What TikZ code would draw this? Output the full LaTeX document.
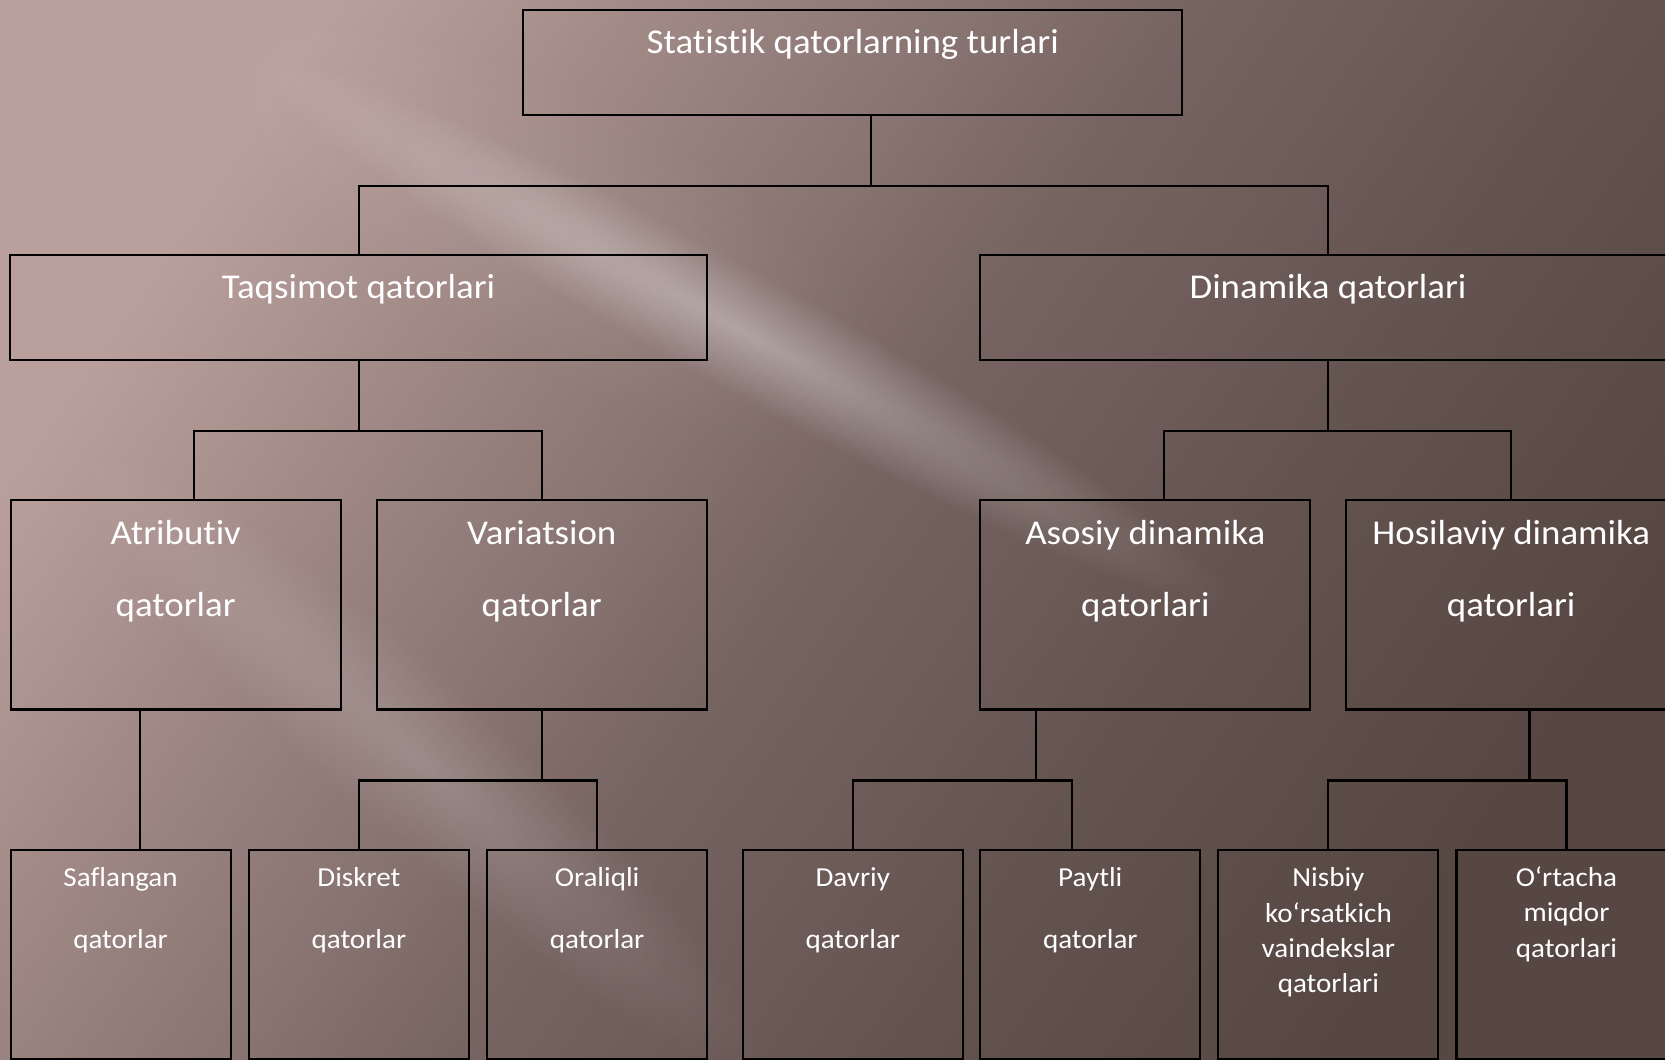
\documentclass[tikz,border=0pt]{standalone}
\usepackage{fontspec}
\setmainfont{Carlito}[FakeStretch=1.06, Ligatures=NoCommon]
\usepackage{tikz}
\usetikzlibrary{calc,fadings}
\definecolor{bgL}{RGB}{186,160,156}
\definecolor{bgM}{RGB}{118,100,97}
\definecolor{bgR}{RGB}{86,71,66}
\pgfdeclarehorizontalshading{slide}{100bp}{color(0bp)=(bgL); color(25bp)=(bgL); color(36bp)=(bgL!55!bgM); color(50bp)=(bgM); color(62bp)=(bgM!45!bgR); color(75bp)=(bgR); color(100bp)=(bgR)}
\tikzfading[name=glow, inner color=transparent!0, outer color=transparent!100]

\begin{document}
\begin{tikzpicture}[x=0.01cm, y=-0.01cm, line width=0.6pt,
 box/.style={draw=black, inner sep=0pt},
 topbox/.style={box, minimum width=6.585cm, minimum height=1.043cm},
 wide/.style={box, minimum width=6.96cm, minimum height=1.05cm},
 mid/.style={box, minimum width=3.30cm, minimum height=2.094cm},
 leaf/.style={box, minimum width=2.198cm, minimum height=2.09cm},
 lbl/.style={text=white, inner sep=0pt, align=center, anchor=base},
 big/.style={lbl, font=\fontsize{9.9}{20.4}\selectfont},
 small/.style={lbl, font=\fontsize{7.8}{17.5}\selectfont},
 tight/.style={lbl, font=\fontsize{7.8}{10.05}\selectfont}]
\useasboundingbox (0,0) rectangle (1665,1060);
\shade[shading=slide, shading angle=-35] (0,0) rectangle (1665,1060);
\coordinate (s1) at (740,330);
\coordinate (s1b) at (560,230);
\coordinate (s2) at (420,760);
\begin{scope}[transform canvas={shift={(s1)}, rotate=-29}]
 \fill[white, opacity=0.32, path fading=glow] (0,0) ellipse [x radius=5.6cm, y radius=0.6cm];
\end{scope}
\begin{scope}[transform canvas={shift={(s1b)}, rotate=-29}]
 \fill[white, opacity=0.07, path fading=glow] (0,0) ellipse [x radius=4cm, y radius=1.4cm];
\end{scope}
\begin{scope}[transform canvas={shift={(s2)}, rotate=-42}]
 \fill[white, opacity=0.16, path fading=glow] (0,0) ellipse [x radius=4.6cm, y radius=0.8cm];
\end{scope}

\node[topbox] (root) at (852.8, 62.4) {};
\node[wide] (taq) at (358.6, 307.5) {};
\node[wide] (din) at (1328, 307.5) {};
\node[mid] (atr) at (175.7, 604.7) {};
\node[mid] (var) at (541.7, 604.7) {};
\node[mid] (aso) at (1145.3, 604.7) {};
\node[mid] (hos) at (1511.2, 604.7) {};
\node[leaf] (saf) at (120.6, 954.5) {};
\node[leaf] (dis) at (358.9, 954.5) {};
\node[leaf] (ora) at (597.1, 954.5) {};
\node[leaf] (dav) at (852.8, 954.5) {};
\node[leaf] (pay) at (1090.3, 954.5) {};
\node[leaf] (nis) at (1328.4, 954.5) {};
\node[leaf] (ort) at (1566.5, 954.5) {};

\node[big] (root-t) at (852.8, 53.3) {Statistik qatorlarning turlari};
\node[big] (taq-t) at (358.6, 298.3) {Taqsimot qatorlari};
\node[big] (din-t) at (1328, 298.3) {Dinamika qatorlari};
\node[big] (atr-t) at (175.7, 616.7) {Atributiv\\qatorlar};
\node[big] (var-t) at (541.7, 616.7) {Variatsion\\qatorlar};
\node[big] (aso-t) at (1145.3, 616.7) {Asosiy dinamika\\qatorlari};
\node[big] (hos-t) at (1511.2, 616.7) {Hosilaviy dinamika\\qatorlari};
\node[small] (saf-t) at (120.6, 948.3) {Saflangan\\qatorlar};
\node[small] (dis-t) at (358.9, 948.3) {Diskret\\qatorlar};
\node[small] (ora-t) at (597.1, 948.3) {Oraliqli\\qatorlar};
\node[small] (dav-t) at (852.8, 948.3) {Davriy\\qatorlar};
\node[small] (pay-t) at (1090.3, 948.3) {Paytli\\qatorlar};
\node[tight] (nis-t) at (1328.4, 992.7) {Nisbiy\\ko‘rsatkich\\vaindekslar\\qatorlari};
\node[tight] (ort-t) at (1566.5, 957.3) {O‘rtacha\\miqdor\\qatorlari};

\draw ($(root.south)+(18,0)$) -- ++(0,70) coordinate (j1);
\draw (taq.north) |- (j1) -| (din.north);
\draw (taq.south) -- ++(0,69.5) coordinate (j2);
\draw ($(atr.north)+(18.3,0)$) |- (j2) -| (var.north);
\draw (din.south) -- ++(0,69.5) coordinate (j3);
\draw ($(aso.north)+(18.5,0)$) |- (j3) -| (hos.north);
\draw ($(saf.north)+(19,0)$) coordinate (k1) -- (k1 |- atr.south);
\draw (var.south) -- ++(0,70) coordinate (j4);
\draw (dis.north) |- (j4) -| (ora.north);
\draw ($(aso.south)+(-109.5,0)$) -- ++(0,70) coordinate (j5);
\draw (dav.north) |- (j5) -| ($(pay.north)+(-18.3,0)$);
\draw ($(hos.south)+(18.3,0)$) -- ++(0,70) coordinate (j6);
\draw (nis.north) |- (j6) -| (ort.north);
\end{tikzpicture}
\end{document}
